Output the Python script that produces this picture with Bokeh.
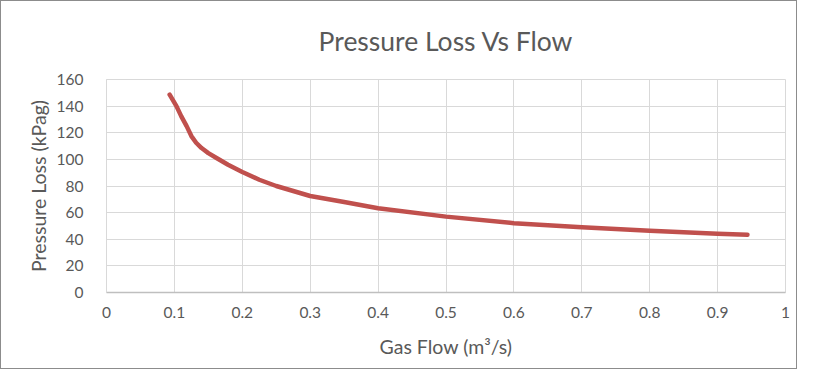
from bokeh.plotting import figure
from bokeh.models import FixedTicker, Range1d
from bokeh.embed import file_html
from bokeh.resources import INLINE

# Data
gas_flow = [0.093, 0.103, 0.11, 0.118, 0.125, 0.132, 0.14, 0.15, 0.162, 0.179, 0.2,
            0.225, 0.25, 0.3, 0.35, 0.4, 0.5, 0.6, 0.7, 0.8, 0.9, 0.944]
pressure_loss = [148.6, 140.0, 132.5, 125.0, 117.5, 112.5, 108.5, 104.7, 101.0, 96.0, 90.5,
                 84.7, 80.0, 72.5, 68.0, 63.3, 57.0, 52.1, 49.0, 46.4, 44.1, 43.4]

x_ticks = [0, 0.1, 0.2, 0.3, 0.4, 0.5, 0.6, 0.7, 0.8, 0.9, 1]
x_tick_labels = ["0", "0.1", "0.2", "0.3", "0.4", "0.5", "0.6", "0.7", "0.8", "0.9", "1"]
y_ticks = [0, 20, 40, 60, 80, 100, 120, 140, 160]
y_tick_labels = ["0", "20", "40", "60", "80", "100", "120", "140", "160"]

FONT = "Lato"
TEXT = "#595959"

p = figure(width=797, height=369, output_backend="svg", toolbar_location=None,
           title="Pressure Loss Vs Flow",
           x_range=Range1d(0, 1), y_range=Range1d(0, 160),
           min_border_left=105, min_border_right=13, min_border_top=78, min_border_bottom=78)
p.styles = {"border": "1px solid #8c8c8c", "box-sizing": "border-box"}

p.title.align = "center"
p.title.vertical_align = "top"
p.title.text_font = FONT
p.title.text_font_size = "26.5px"
p.title.text_font_style = "normal"
p.title.text_color = TEXT
p.title.standoff = 42

p.line(gas_flow, pressure_loss, line_color="#C0504D", line_width=4.5,
       line_cap="round", line_join="round")

p.xaxis.ticker = FixedTicker(ticks=x_ticks)
p.yaxis.ticker = FixedTicker(ticks=y_ticks)
p.xaxis.major_label_overrides = {t: l for t, l in zip(x_ticks, x_tick_labels)}
p.yaxis.major_label_overrides = {t: l for t, l in zip(y_ticks, y_tick_labels)}

p.xaxis.axis_label = "Gas Flow (m³/s)"
p.yaxis.axis_label = "Pressure Loss (kPag)"

for ax in (p.xaxis, p.yaxis):
    ax.major_tick_line_color = None
    ax.minor_tick_line_color = None
    ax.major_label_text_font = FONT
    ax.major_label_text_font_size = "15.5px"
    ax.major_label_text_color = TEXT
    ax.axis_label_text_font = FONT
    ax.axis_label_text_font_size = "19.5px"
    ax.axis_label_text_font_style = "normal"
    ax.axis_label_text_color = TEXT

p.xaxis.axis_line_color = "#BFBFBF"
p.xaxis.axis_line_width = 1.5
p.yaxis.axis_line_color = "#D9D9D9"
p.xaxis.major_label_standoff = 8
p.yaxis.major_label_standoff = 17
p.xaxis.axis_label_standoff = 14
p.yaxis.axis_label_standoff = 4

p.xgrid.grid_line_color = "#D9D9D9"
p.ygrid.grid_line_color = "#D9D9D9"
p.outline_line_color = "#D9D9D9"

open("out.html", "w").write(file_html(p, INLINE))
